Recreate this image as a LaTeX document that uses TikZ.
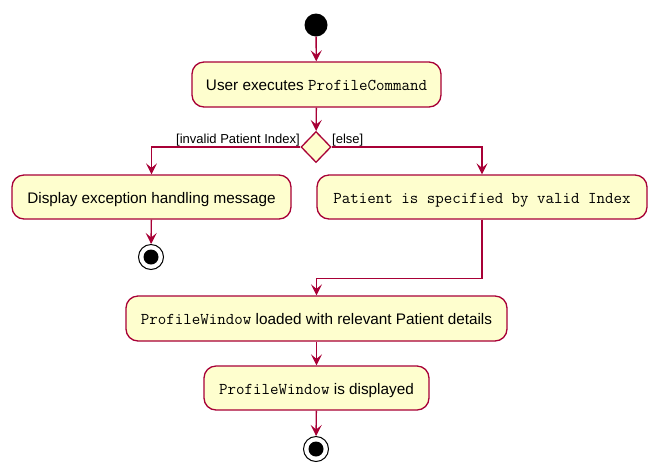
\documentclass[tikz,border=0pt]{standalone}
\usepackage{fontspec}
\setmainfont{Liberation Sans}
\usetikzlibrary{arrows.meta,shapes.geometric}
\definecolor{pfill}{HTML}{FEFECE}
\definecolor{pline}{HTML}{A80036}
\newcommand\pcode[1]{{\fontsize{16.5}{18}\selectfont\ttfamily #1}}
\begin{document}
\begin{tikzpicture}[x=1pt,y=-1pt,
  act/.style={draw=pline,fill=pfill,line width=1.3pt,rounded corners=12pt,inner sep=0pt,
    text height=12pt,text depth=0pt,font=\fontsize{15.3}{18}\selectfont},
  flow/.style={draw=pline,line width=1.4pt,-{Stealth[length=11pt,width=11pt,inset=4.5pt]}},
  lbl/.style={inner sep=0pt,font=\fontsize{13}{15}\selectfont},
  dec/.style={diamond,draw=pline,fill=pfill,line width=1.3pt,inner sep=0pt,minimum width=30pt,minimum height=31pt},
  startn/.style={circle,fill=black,inner sep=0pt,minimum size=23pt},
  endn/.style={circle,draw=black,fill=white,line width=1pt,inner sep=0pt,minimum size=25pt}
]
\useasboundingbox[fill=white] (0,0) rectangle (660,475);

\node[startn] (start) at (316,25) {};
\node[act,minimum width=249pt,minimum height=45pt] (a1) at (316.5,84.5) {User executes \pcode{ProfileCommand}};
\node[dec] (d) at (316,147) {};
\node[act,minimum width=279pt,minimum height=44pt] (a2) at (151.5,197) {Display exception handling message};
\node[act,minimum width=330pt,minimum height=44pt] (a3) at (482,197) {\pcode{Patient is specified by valid Index}};
\node[endn] (e1) at (151,257) {};
\fill (e1) circle (7.5pt);
\node[act,minimum width=381pt,minimum height=45pt] (a4) at (316.5,318.5) {\pcode{ProfileWindow} loaded with relevant Patient details};
\node[act,minimum width=225pt,minimum height=44pt] (a5) at (316.5,388) {\pcode{ProfileWindow} is displayed};
\node[endn] (e2) at (316,449) {};
\fill (e2) circle (7.5pt);

\node[lbl,anchor=base east] (l1) at (300,143.5) {[invalid Patient Index]};
\node[lbl,anchor=base west] (l2) at (332,143.5) {[else]};

\draw[flow] (start) -- (a1);
\draw[flow] (a1) -- (d);
\draw[flow] (d.west) -| (a2.north);
\draw[flow] (d.east) -| (a3.north);
\draw[flow] (a2) -- (e1);
\draw[flow] (a3.south) -- ++(0,59) -| (a4.north);
\draw[flow] (a4) -- (a5);
\draw[flow] (a5) -- (e2);
\end{tikzpicture}
\end{document}
